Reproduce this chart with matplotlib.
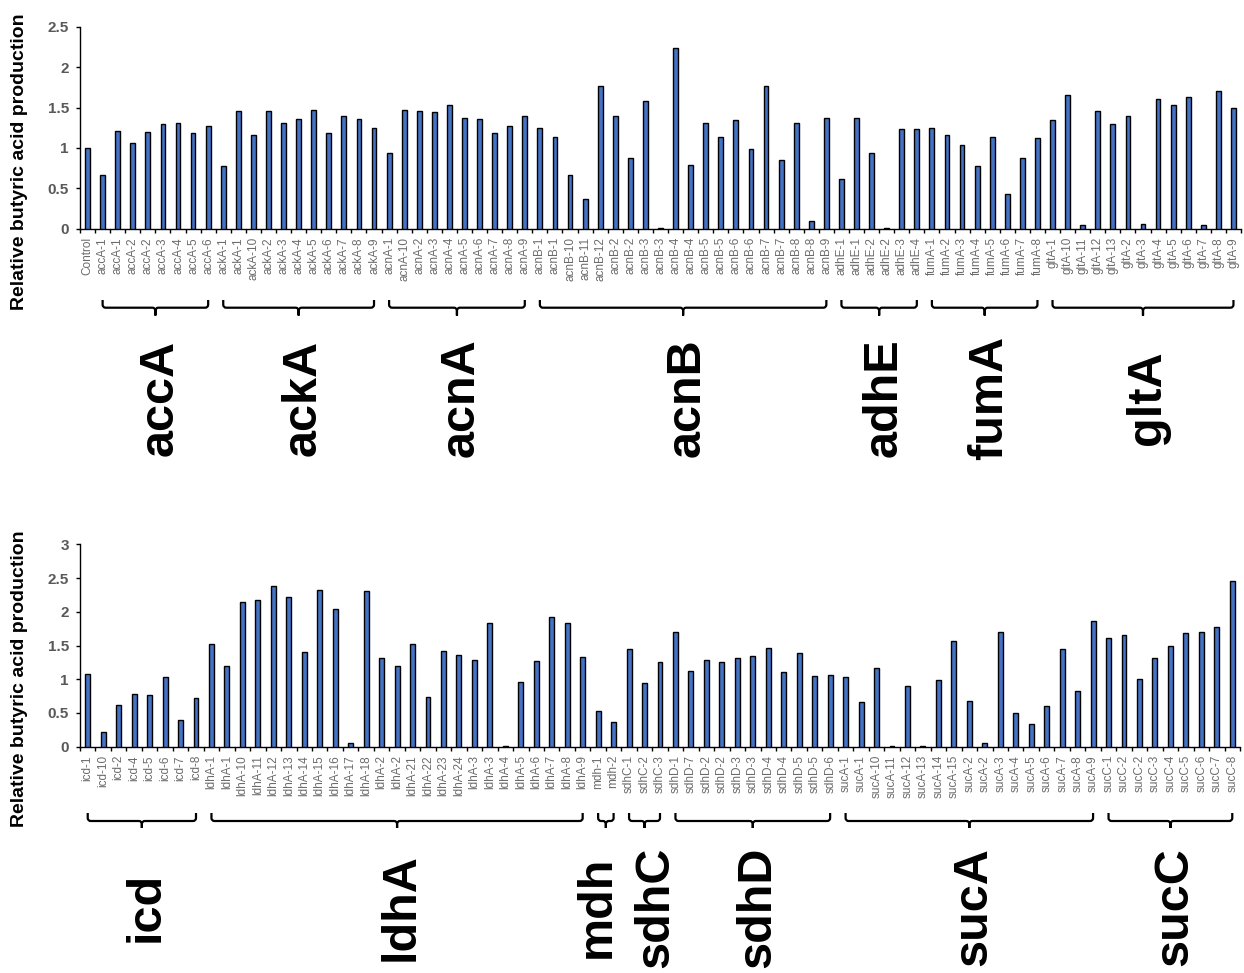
import numpy as np
import matplotlib
matplotlib.use("Agg")
import matplotlib.pyplot as plt
from matplotlib.path import Path
from matplotlib.patches import PathPatch
from matplotlib.transforms import blended_transform_factory, ScaledTranslation
from matplotlib.ticker import FuncFormatter

plt.rcParams['font.family'] = ['Liberation Sans', 'DejaVu Sans']

# strain labels and relative butyric acid production (upper panel)
top_labels = [
    "Control",
    "accA-1", "accA-1", "accA-2", "accA-2", "accA-3", "accA-4", "accA-5", "accA-6",
    "ackA-1", "ackA-1", "ackA-10", "ackA-2", "ackA-3", "ackA-4", "ackA-5", "ackA-6",
    "ackA-7", "ackA-8", "ackA-9",
    "acnA-1", "acnA-10", "acnA-2", "acnA-3", "acnA-4", "acnA-5", "acnA-6", "acnA-7",
    "acnA-8", "acnA-9",
    "acnB-1", "acnB-1", "acnB-10", "acnB-11", "acnB-12", "acnB-2", "acnB-2", "acnB-3",
    "acnB-3", "acnB-4", "acnB-4", "acnB-5", "acnB-5", "acnB-6", "acnB-6", "acnB-7",
    "acnB-7", "acnB-8", "acnB-8", "acnB-9",
    "adhE-1", "adhE-1", "adhE-2", "adhE-2", "adhE-3", "adhE-4",
    "fumA-1", "fumA-2", "fumA-3", "fumA-4", "fumA-5", "fumA-6", "fumA-7", "fumA-8",
    "gltA-1", "gltA-10", "gltA-11", "gltA-12", "gltA-13", "gltA-2", "gltA-3", "gltA-4",
    "gltA-5", "gltA-6", "gltA-7", "gltA-8", "gltA-9",
]
top_values = [
    1.00,
    0.67, 1.21, 1.06, 1.20, 1.30, 1.31, 1.19, 1.27,
    0.78, 1.46, 1.16, 1.46, 1.31, 1.36, 1.47, 1.18, 1.39, 1.36, 1.25,
    0.94, 1.47, 1.46, 1.45, 1.53, 1.37, 1.36, 1.18, 1.27, 1.40,
    1.25, 1.14, 0.67, 0.37, 1.77, 1.40, 0.87, 1.58, 0.01, 2.24, 0.79, 1.31, 1.13,
    1.34, 0.99, 1.77, 0.85, 1.31, 0.10, 1.37,
    0.61, 1.37, 0.94, 0.01, 1.23, 1.23,
    1.25, 1.16, 1.03, 0.77, 1.13, 0.43, 0.88, 1.12,
    1.34, 1.66, 0.04, 1.46, 1.30, 1.40, 0.06, 1.60, 1.53, 1.63, 0.04, 1.71, 1.50,
]

# lower panel
bottom_labels = [
    "icd-1", "icd-10", "icd-2", "icd-4", "icd-5", "icd-6", "icd-7", "icd-8",
    "ldhA-1", "ldhA-1", "ldhA-10", "ldhA-11", "ldhA-12", "ldhA-13", "ldhA-14", "ldhA-15",
    "ldhA-16", "ldhA-17", "ldhA-18", "ldhA-2", "ldhA-2", "ldhA-21", "ldhA-22", "ldhA-23",
    "ldhA-24", "ldhA-3", "ldhA-3", "ldhA-4", "ldhA-5", "ldhA-6", "ldhA-7", "ldhA-8",
    "ldhA-9",
    "mdh-1", "mdh-2",
    "sdhC-1", "sdhC-2", "sdhC-3",
    "sdhD-1", "sdhD-7", "sdhD-2", "sdhD-2", "sdhD-3", "sdhD-3", "sdhD-4", "sdhD-4",
    "sdhD-5", "sdhD-5", "sdhD-6",
    "sucA-1", "sucA-1", "sucA-10", "sucA-11", "sucA-12", "sucA-13", "sucA-14", "sucA-15",
    "sucA-2", "sucA-2", "sucA-3", "sucA-4", "sucA-5", "sucA-6", "sucA-7", "sucA-8",
    "sucA-9",
    "sucC-1", "sucC-2", "sucC-2", "sucC-3", "sucC-4", "sucC-5", "sucC-6", "sucC-7",
    "sucC-8",
]
bottom_values = [
    1.08, 0.22, 0.62, 0.78, 0.77, 1.03, 0.39, 0.72,
    1.52, 1.19, 2.15, 2.17, 2.38, 2.22, 1.41, 2.33, 2.04, 0.05, 2.31, 1.32, 1.19,
    1.52, 0.74, 1.42, 1.36, 1.28, 1.83, 0.01, 0.96, 1.27, 1.92, 1.83, 1.33,
    0.53, 0.36,
    1.45, 0.94, 1.26,
    1.70, 1.12, 1.29, 1.25, 1.31, 1.34, 1.47, 1.10, 1.39, 1.05, 1.06,
    1.04, 0.66, 1.17, 0.01, 0.90, 0.01, 0.99, 1.56, 0.68, 0.06, 1.70, 0.50, 0.34,
    0.61, 1.45, 0.83, 1.87,
    1.61, 1.66, 1.00, 1.32, 1.50, 1.68, 1.70, 1.77, 2.45,
]

W, H = 1244, 973
fig = plt.figure(figsize=(W / 100, H / 100), dpi=100)

# narrow groups sit side by side, so push their names apart a little (pixels)
name_nudge = {"mdh": -13, "sdhC": 7}


def fy(px):
    # pixel row from the top -> figure fraction
    return 1 - px / H


def gene_runs(labels):
    runs = []
    for i, lab in enumerate(labels):
        gene = lab.split('-')[0]
        if gene == 'Control':
            continue
        if runs and runs[-1][0] == gene and runs[-1][2] == i - 1:
            runs[-1][2] = i
        else:
            runs.append([gene, i, i])
    return runs


def brace(ax, x0, x1, ppc, y_top, y_mid, y_bot):
    trans = blended_transform_factory(ax.transData, fig.transFigure)
    rx = 3.0 / ppc
    ry = 3.0
    xc = (x0 + x1) / 2
    verts, codes = [], []
    for xe, s in ((x0, 1), (x1, -1)):
        verts += [(xe, fy(y_top)), (xe, fy(y_mid - ry)), (xe, fy(y_mid)), (xe + s * rx, fy(y_mid)),
                  (xc - s * rx, fy(y_mid)), (xc, fy(y_mid)), (xc, fy(y_mid + ry)), (xc, fy(y_bot))]
        codes += [Path.MOVETO, Path.LINETO, Path.CURVE3, Path.CURVE3,
                  Path.LINETO, Path.CURVE3, Path.CURVE3, Path.LINETO]
    patch = PathPatch(Path(verts, codes), transform=trans, fill=False, lw=1.6,
                      edgecolor='black', capstyle='butt', joinstyle='round')
    fig.add_artist(patch)


def draw_panel(rect, labels, values, ymax, ylabel_y, brace_px, name_y):
    ax = fig.add_axes(rect)
    n = len(labels)
    x = np.arange(n)
    ax.bar(x, values, width=0.32, color='#4472C4', edgecolor='black', linewidth=1.0, zorder=3)
    ax.set_xlim(-0.5, n - 0.5)
    ax.set_ylim(0, ymax)
    ax.set_yticks(np.arange(0, ymax + 0.01, 0.5))
    ax.yaxis.set_major_formatter(FuncFormatter(lambda v, p: f'{v:g}'))
    ax.set_xticks(x)
    ax.set_xticklabels(labels, rotation=90, fontsize=8.5, color='#6b6b6b')
    ax.set_xticks(np.arange(-0.5, n), minor=True)
    ax.tick_params(axis='x', which='major', length=0, pad=6)
    ax.tick_params(axis='x', which='minor', length=3, width=1, color='black', direction='out')
    ax.tick_params(axis='y', length=3, width=1, pad=5, labelsize=11, labelcolor='#595959')
    for t in ax.get_yticklabels():
        t.set_fontweight('bold')
    for side in ('top', 'right'):
        ax.spines[side].set_visible(False)
    for side in ('left', 'bottom'):
        ax.spines[side].set_linewidth(1.0)
        ax.spines[side].set_color('black')

    fig.text(20 / W, fy(ylabel_y), 'Relative butyric acid production', rotation=90,
             ha='center', va='center', fontsize=14, fontweight='bold')

    ppc = rect[2] * W / n
    base = blended_transform_factory(ax.transData, fig.transFigure)
    for gene, i0, i1 in gene_runs(labels):
        brace(ax, i0, i1, ppc, *brace_px)
        shift = (17 + name_nudge.get(gene, 0)) / 100
        fig.text((i0 + i1) / 2, fy(name_y), gene,
                 transform=base + ScaledTranslation(shift, 0, fig.dpi_scale_trans),
                 rotation=90, rotation_mode='anchor', ha='center', va='baseline',
                 fontsize=35, fontweight='bold')
    return ax


draw_panel([80 / W, fy(228.7), (1241 - 80) / W, 202 / H], top_labels, top_values, 2.5,
           162, (300, 307.7, 315.5), 398)
draw_panel([80 / W, fy(746.7), (1240 - 80) / W, 202.4 / H], bottom_labels, bottom_values, 3,
           679, (813, 821, 828), 907)

fig.savefig('out.png', dpi=100)
